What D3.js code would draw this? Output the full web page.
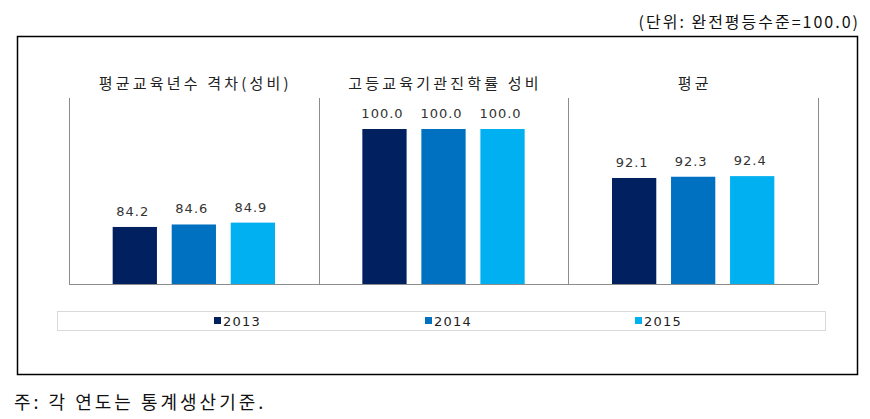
<!DOCTYPE html>
<html><head><meta charset="utf-8">
<script src="https://cdn.jsdelivr.net/npm/d3@7"></script>
<style>body{margin:0;background:#fff}svg{display:block}</style>
</head><body>
<svg id="c" width="870" height="419"></svg>
<script>
const categories = ["평균교육년수 격차(성비)", "고등교육기관진학률 성비", "평균"];
const years = ["2013", "2014", "2015"];
const values2013 = [84.2, 100.0, 92.1];
const values2014 = [84.6, 100.0, 92.3];
const values2015 = [84.9, 100.0, 92.4];
const colors = ["#002060", "#0070C0", "#00B0F0"];
const unitText = "(단위: 완전평등수준=100.0)";
const noteText = "주: 각 연도는 통계생산기준.";

const series = [values2013, values2014, values2015];
const svg = d3.select("#c");
const kfont = "'Noto Sans CJK KR', 'Noto Sans', sans-serif";

// outer frame
svg.append("rect").attr("x", 17.5).attr("y", 36.5).attr("width", 840).attr("height", 338)
  .attr("fill", "none").attr("stroke", "#000").attr("stroke-width", 1.5);

svg.append("text").attr("x", 860).attr("y", 28).attr("text-anchor", "end")
  .attr("font-family", kfont).attr("font-size", 16).attr("letter-spacing", 2)
  .attr("fill", "#111").text(unitText);
svg.append("text").attr("x", 14).attr("y", 409)
  .attr("font-family", kfont).attr("font-size", 18).attr("letter-spacing", 3)
  .attr("fill", "#111").text(noteText);

const x0 = d3.scaleBand().domain(categories).range([69, 818]).padding(0);
const x1 = d3.scaleBand().domain(years).range([0, x0.bandwidth()]).paddingInner(0.25).paddingOuter(0.74);
const y = d3.scaleLinear().domain([75, 105]).range([284, 98]);

// panel separators
const edges = categories.map(c => x0(c)).concat([x0(categories[categories.length-1]) + x0.bandwidth()]);
svg.selectAll("line.sep").data(edges).join("line")
  .attr("x1", d => Math.round(d) + 0.5).attr("x2", d => Math.round(d) + 0.5)
  .attr("y1", y(105)).attr("y2", y(75)).attr("stroke", "#8c8c8c").attr("stroke-width", 1);
svg.append("line").attr("x1", x0.range()[0]).attr("x2", x0.range()[1])
  .attr("y1", y(75) + 0.5).attr("y2", y(75) + 0.5).attr("stroke", "#8c8c8c");

// titles
svg.selectAll("text.title").data(categories).join("text")
  .attr("x", d => x0(d) + x0.bandwidth() / 2 + 1.5).attr("y", 89).attr("text-anchor", "middle")
  .attr("font-family", kfont).attr("font-size", 15).attr("letter-spacing", 3.2)
  .attr("fill", "#222").text(d => d);

// bars
const g = svg.selectAll("g.cat").data(categories).join("g")
  .attr("transform", d => `translate(${x0(d)},0)`);
g.each(function(cat, ci) {
  const sel = d3.select(this);
  years.forEach((yr, si) => {
    const v = series[si][ci];
    sel.append("rect").attr("x", x1(yr)).attr("width", x1.bandwidth())
      .attr("y", y(v)).attr("height", y(75) - y(v)).attr("fill", colors[si]);
    sel.append("text").attr("x", x1(yr) + x1.bandwidth() / 2 - 2).attr("y", y(v) - 11)
      .attr("text-anchor", "middle").attr("font-family", "'DejaVu Sans', sans-serif")
      .attr("font-size", 13).attr("letter-spacing", 1).attr("fill", "#333").text(v.toFixed(1));
  });
});

// legend
svg.append("rect").attr("x", 57.5).attr("y", 311.5).attr("width", 768).attr("height", 19)
  .attr("fill", "#fff").attr("stroke", "#d9d9d9");
const legX = [214, 425, 635];
years.forEach((yr, i) => {
  svg.append("rect").attr("x", legX[i]).attr("y", 317).attr("width", 7).attr("height", 7).attr("fill", colors[i]);
  svg.append("text").attr("x", legX[i] + 9).attr("y", 325.5)
    .attr("font-family", "'DejaVu Sans', sans-serif").attr("font-size", 13)
    .attr("letter-spacing", 1.2).attr("fill", "#222").text(yr);
});
</script>
</body></html>
